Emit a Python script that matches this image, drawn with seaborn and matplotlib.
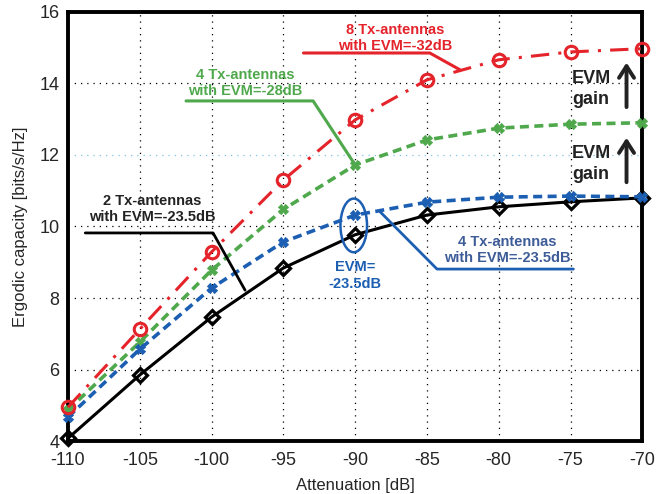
import matplotlib
matplotlib.use("Agg")
import matplotlib.pyplot as plt
import seaborn as sns
import pandas as pd
import numpy as np
from matplotlib.patches import Ellipse

attenuation = [-110, -105, -100, -95, -90, -85, -80, -75, -70]
cap_2tx_235 = [4.08, 5.85, 7.47, 8.84, 9.77, 10.32, 10.55, 10.69, 10.80]
cap_4tx_235 = [4.67, 6.57, 8.28, 9.57, 10.32, 10.68, 10.82, 10.85, 10.83]
cap_4tx_28 = [4.87, 6.77, 8.78, 10.48, 11.72, 12.42, 12.75, 12.86, 12.90]
cap_8tx_32 = [4.95, 7.13, 9.29, 11.30, 12.98, 14.10, 14.66, 14.88, 14.97]
x_ticks = [-110, -105, -100, -95, -90, -85, -80, -75, -70]
y_ticks = [4, 6, 8, 10, 12, 14, 16]

sns.set_theme(style="white")
plt.rcParams['font.family'] = ['Liberation Sans Narrow', 'Liberation Sans', 'DejaVu Sans']

RED = "#e4232b"
GREEN = "#4fa94c"
BLUE = "#1c5fb2"
BLUE_TXT = "#3d5c98"
TXT_FAM = ['Liberation Sans', 'DejaVu Sans']

fig = plt.figure(figsize=(6.67, 4.94), dpi=100)
ax = fig.add_axes([0.102, 0.107, 0.861, 0.869])

# grid
for xv in x_ticks[1:-1]:
    ax.axvline(xv, color="black", lw=0.9, ls=(0, (1, 4)), zorder=0)
for yv in y_ticks[1:-1]:
    ax.axhline(yv, color=("#7fc4e8" if yv == 12 else "black"), lw=0.9, ls=(0, (1, 4)), zorder=0)

sns.lineplot(x=attenuation, y=cap_8tx_32, ax=ax, color=RED, lw=2.2,
             linestyle=(0, (6, 3, 1, 3)), marker="o", markersize=9,
             markerfacecolor="none", markeredgecolor=RED, markeredgewidth=2.2, zorder=5, clip_on=False)
sns.lineplot(x=attenuation, y=cap_4tx_28, ax=ax, color=GREEN, lw=2.6,
             linestyle=(0, (2.5, 1.5)), marker="X", markersize=7,
             markerfacecolor=GREEN, markeredgecolor=GREEN, zorder=4, clip_on=False)
sns.lineplot(x=attenuation, y=cap_4tx_235, ax=ax, color=BLUE, lw=2.6,
             linestyle=(0, (2.5, 1.5)), marker="X", markersize=7,
             markerfacecolor=BLUE, markeredgecolor=BLUE, zorder=4, clip_on=False)
sns.lineplot(x=attenuation, y=cap_2tx_235, ax=ax, color="black", lw=2.2,
             linestyle="-", marker="D", markersize=7.5,
             markerfacecolor="none", markeredgecolor="black", markeredgewidth=2.3, zorder=3, clip_on=False)

ax.set_xlim(-110, -70)
ax.set_ylim(4, 16)
ax.set_xticks(x_ticks)
ax.set_yticks(y_ticks)
ax.set_xticklabels([str(v) for v in x_ticks], fontsize=13)
ax.set_yticklabels([str(v) for v in y_ticks], fontsize=13)
ax.tick_params(axis="x", length=0, pad=8)
ax.tick_params(axis="y", length=0, pad=6)
ax.set_xlabel("Attenuation [dB]", fontsize=12, labelpad=6)
ax.set_ylabel("Ergodic capacity [bits/s/Hz]", fontsize=12, labelpad=8)
for s in ax.spines.values():
    s.set_linewidth(2.8)
    s.set_color("black")

fs = 10.5
ls_txt = 1.25
# 8 Tx annotation
ax.text(-87.2, 15.27, "8 Tx-antennas\nwith EVM=-32dB", color=RED, fontsize=fs,
        fontweight="bold", ha="center", va="center", family=TXT_FAM, linespacing=ls_txt)
ax.plot([-93.6, -84.8, -82.7], [14.85, 14.85, 14.38], color=RED, lw=2.2, zorder=6)
# 4 Tx -28
ax.text(-97.67, 14.01, "4 Tx-antennas\nwith EVM=-28dB", color=GREEN, fontsize=fs,
        fontweight="bold", ha="center", va="center", family=TXT_FAM, linespacing=ls_txt)
ax.plot([-101.78, -92.93, -90.0], [13.51, 13.51, 11.72], color=GREEN, lw=2.2, zorder=6)
# 2 Tx
ax.text(-104.15, 10.49, "2 Tx-antennas\nwith EVM=-23.5dB", color="#222222", fontsize=fs,
        fontweight="bold", ha="center", va="center", family=TXT_FAM, linespacing=ls_txt)
ax.plot([-108.8, -99.9, -97.67], [9.82, 9.82, 8.22], color="black", lw=2.0, zorder=6)
# 4 Tx -23.5
ax.text(-79.4, 9.34, "4 Tx-antennas\nwith EVM=-23.5dB", color=BLUE_TXT, fontsize=fs,
        fontweight="bold", ha="center", va="center", family=TXT_FAM, linespacing=ls_txt)
ax.plot([-88.26, -84.3, -74.8], [10.41, 8.81, 8.81], color=BLUE, lw=2.0, zorder=6)
# ellipse
ax.add_patch(Ellipse((-90.1, 10.03), 1.85, 1.5, fill=False, edgecolor=BLUE, lw=1.8, zorder=6))
ax.text(-90.0, 8.62, "EVM=\n-23.5dB", color=BLUE, fontsize=fs, fontweight="bold",
        ha="center", va="center", family=TXT_FAM, linespacing=ls_txt)
# EVM gain
for yc, y0, y1 in [(13.85, 13.26, 14.66), (11.75, 11.16, 12.56)]:
    ax.text(-74.9, yc, "EVM\ngain", color="#222222", fontsize=13, fontweight="bold",
            ha="left", va="center", family=TXT_FAM, linespacing=1.3)
    ax.annotate("", xy=(-71.1, y1), xytext=(-71.1, y0),
                arrowprops=dict(arrowstyle="->,head_length=0.7,head_width=0.45", color="#222222", lw=2.8))

fig.savefig("out.png", dpi=100)
